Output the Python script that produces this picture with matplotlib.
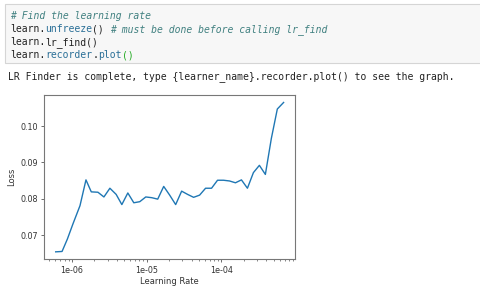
import numpy as np
import matplotlib
matplotlib.use("Agg")
import matplotlib.pyplot as plt
from matplotlib.patches import Rectangle
from matplotlib.ticker import FormatStrFormatter

# ---- data ----
log_lr = [-6.218, -6.133, -6.062, -5.987, -5.893, -5.813, -5.742, -5.653, -5.573, -5.493,
          -5.409, -5.333, -5.253, -5.173, -5.093, -5.013, -4.933, -4.853, -4.773, -4.693,
          -4.613, -4.533, -4.453, -4.373, -4.293, -4.213, -4.133, -4.053, -3.973, -3.893,
          -3.813, -3.733, -3.653, -3.573, -3.493, -3.413, -3.333, -3.253, -3.169]
losses = [0.0654, 0.0655, 0.0689, 0.0731, 0.0781, 0.0852, 0.0819, 0.0818, 0.0805, 0.0829,
          0.0812, 0.0784, 0.0816, 0.0789, 0.0792, 0.0805, 0.0803, 0.0799, 0.0834, 0.0810,
          0.0784, 0.0821, 0.0812, 0.0804, 0.0810, 0.0829, 0.0829, 0.0851, 0.0851, 0.0849,
          0.0844, 0.0852, 0.0829, 0.0872, 0.0892, 0.0867, 0.0966, 0.1047, 0.1065]
lrs = [10 ** v for v in log_lr]

code_lines = [
    [("# Find the learning rate", "#408080", "italic")],
    [("learn.", "#222222", "normal"), ("unfreeze", "#2a6f97", "normal"), ("() ", "#222222", "normal"),
     ("# must be done before calling lr_find", "#408080", "italic")],
    [("learn.", "#222222", "normal"), ("lr_find()", "#222222", "normal")],
    [("learn.", "#222222", "normal"), ("recorder", "#2a6f97", "normal"), (".", "#222222", "normal"),
     ("plot", "#2a6f97", "normal"), ("()", "#22aa22", "normal")],
]
output_text = "LR Finder is complete, type {learner_name}.recorder.plot() to see the graph."

W, H = 481, 290
fig = plt.figure(figsize=(W / 100, H / 100), dpi=100)
fig.patch.set_facecolor("white")

# code cell background
fig.patches.append(Rectangle((5 / W, 1 - 63 / H), (W - 4) / W, 59 / H, transform=fig.transFigure,
                             facecolor="#f7f7f7", edgecolor="#d5d5d5", linewidth=0.8))

charw = 5.88
fs = 7.0
baselines = [19, 32, 45, 58]
for line, yb in zip(code_lines, baselines):
    col = 0
    for txt, c, st in line:
        fig.text((10 + col * charw) / W, 1 - yb / H, txt, family="DejaVu Sans Mono",
                 fontsize=fs, color=c, style=st, va="baseline", ha="left")
        col += len(txt)

fig.text(8 / W, 1 - 79.5 / H, output_text, family="DejaVu Sans Mono", fontsize=fs,
         color="#222222", va="baseline", ha="left")

# plot
ax = fig.add_axes([44.3 / W, 1 - 259.3 / H, (295 - 44.3) / W, (259.3 - 95) / H])
ax.plot(lrs, losses, color="#1f77b4", linewidth=1.0)
ax.set_xscale("log")
ax.xaxis.set_major_formatter(FormatStrFormatter("%.0e"))
ax.set_yticks([0.07, 0.08, 0.09, 0.10])
ax.yaxis.set_major_formatter(FormatStrFormatter("%.2f"))
ax.set_xlabel("Learning Rate", fontsize=6, color="#333333", labelpad=2)
ax.set_ylabel("Loss", fontsize=6, color="#333333", labelpad=3)
ax.tick_params(axis="both", which="major", labelsize=5.8, length=2.5, width=0.6,
               colors="#555555", labelcolor="#333333", pad=2)
ax.tick_params(axis="both", which="minor", length=1.4, width=0.5, colors="#555555")
for s in ax.spines.values():
    s.set_color("#777777")
    s.set_linewidth(0.8)

fig.savefig("out.png", dpi=100)
